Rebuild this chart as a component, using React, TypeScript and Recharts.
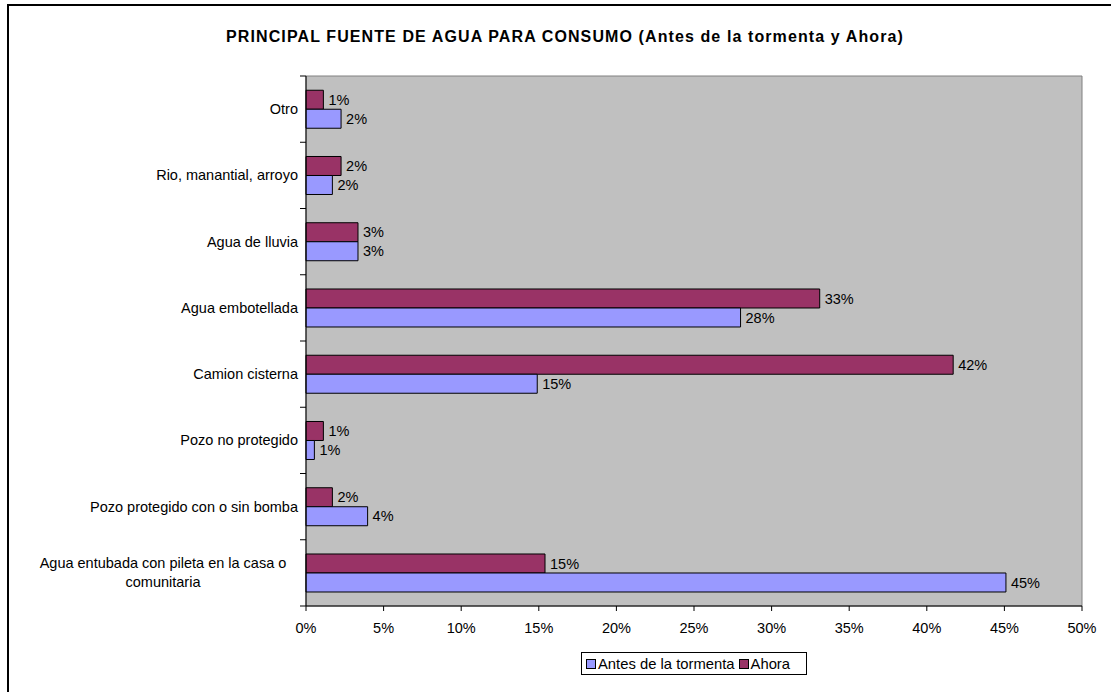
import React from "react";
import { BarChart, Bar, XAxis, YAxis, CartesianGrid, LabelList, ReferenceArea } from "recharts";

const categories = [
  "Otro",
  "Rio, manantial, arroyo",
  "Agua de lluvia",
  "Agua embotellada",
  "Camion cisterna",
  "Pozo no protegido",
  "Pozo protegido con o sin bomba",
  "Agua entubada con pileta en la casa o comunitaria",
];
const categoryLabelLines: string[][] = [
  ["Otro"],
  ["Rio, manantial, arroyo"],
  ["Agua de lluvia"],
  ["Agua embotellada"],
  ["Camion cisterna"],
  ["Pozo no protegido"],
  ["Pozo protegido con o sin bomba"],
  ["Agua entubada con pileta en la casa o", "comunitaria"],
];
const antes = [2.26, 1.7, 3.35, 28.0, 14.9, 0.54, 3.97, 45.1];
const ahora = [1.12, 2.26, 3.35, 33.1, 41.7, 1.12, 1.7, 15.4];
const xTicks = [0, 5, 10, 15, 20, 25, 30, 35, 40, 45, 50];

const data = categories.map((c, i) => ({ name: c, antes: antes[i], ahora: ahora[i] }));

const FONT = '"Liberation Sans", Arial, sans-serif';
const FS = 14.5;
const W = 1111;
const H = 692;
const M = { top: 76, right: 29, bottom: 56, left: 0 };
const XH = 30;
const band = (H - M.top - M.bottom - XH) / categories.length;

function YTick(props: any) {
  const { x, y, payload, index } = props;
  const lines = categoryLabelLines[index] || [payload.value];
  const axisX = x + 8;
  return (
    <g>
      <line x1={axisX - 6} x2={axisX} y1={y - band / 2} y2={y - band / 2} stroke="#000" />
      {index === categories.length - 1 && (
        <line x1={axisX - 6} x2={axisX} y1={y + band / 2} y2={y + band / 2} stroke="#000" />
      )}
      {lines.length === 1 ? (
        <text x={x} y={y} dy="0.35em" textAnchor="end" fontSize={FS} fontFamily={FONT} fill="#000">
          {lines[0]}
        </text>
      ) : (
        lines.map((l, k) => (
          <text
            key={k}
            x={x - 135}
            y={y + (k - (lines.length - 1) / 2) * 19}
            dy="0.35em"
            textAnchor="middle"
            fontSize={FS}
            fontFamily={FONT}
            fill="#000"
          >
            {l}
          </text>
        ))
      )}
    </g>
  );
}

const fmt = (v: any) => `${Math.round(Number(v))}%`;

export default function App() {
  return (
    <div style={{ position: "relative", width: W, height: H, overflow: "hidden", background: "#fff", fontFamily: FONT }}>
      <style>{"body{margin:0}"}</style>
      <div
        style={{
          position: "absolute",
          left: 7,
          top: 4,
          width: 1300,
          height: 900,
          border: "2px solid #000",
          boxSizing: "border-box",
        }}
      />
      <div
        style={{
          position: "absolute",
          left: 0,
          width: 1130,
          top: 28,
          textAlign: "center",
          fontWeight: "bold",
          fontSize: 16,
          letterSpacing: "1.1px",
          color: "#000",
          lineHeight: "18px",
        }}
      >
        PRINCIPAL FUENTE DE AGUA PARA CONSUMO (Antes de la tormenta y Ahora)
      </div>
      <div style={{ position: "absolute", left: 0, top: 0 }}>
        <BarChart
          width={W}
          height={H}
          data={data}
          layout="vertical"
          margin={M}
          barCategoryGap="21.5%"
          barGap={0}
        >
          <CartesianGrid horizontal={false} vertical={false} fill="#C0C0C0" />
          <ReferenceArea x1={0} x2={50} fill="none" stroke="#808080" strokeWidth={1} />
          <XAxis
            type="number"
            domain={[0, 50]}
            ticks={xTicks}
            tickFormatter={(v) => `${v}%`}
            height={XH}
            tickSize={5}
            tickMargin={12}
            interval={0}
            axisLine={{ stroke: "#000" }}
            tickLine={{ stroke: "#000" }}
            tick={{ fontSize: FS, fill: "#000", fontFamily: FONT }}
          />
          <YAxis
            type="category"
            dataKey="name"
            width={306}
            tickSize={6}
            tickMargin={2}
            tickLine={false}
            axisLine={{ stroke: "#000" }}
            interval={0}
            tick={<YTick />}
          />
          <Bar dataKey="ahora" name="Ahora" fill="#993366" stroke="#000" strokeWidth={1} isAnimationActive={false}>
            <LabelList dataKey="ahora" position="right" offset={5} formatter={fmt} fontSize={FS} fill="#000" fontFamily={FONT} />
          </Bar>
          <Bar dataKey="antes" name="Antes de la tormenta" fill="#9999FF" stroke="#000" strokeWidth={1} isAnimationActive={false}>
            <LabelList dataKey="antes" position="right" offset={5} formatter={fmt} fontSize={FS} fill="#000" fontFamily={FONT} />
          </Bar>
        </BarChart>
      </div>
      <div
        style={{
          position: "absolute",
          left: 581,
          top: 652,
          width: 226,
          height: 23,
          border: "1px solid #000",
          boxSizing: "border-box",
          display: "flex",
          alignItems: "center",
          fontSize: 14.8,
          color: "#000",
          background: "#fff",
          whiteSpace: "nowrap",
        }}
      >
        <span style={{ display: "inline-block", width: 8, height: 8, background: "#9999FF", border: "1px solid #000", marginLeft: 4, marginRight: 2 }} />
        <span>Antes de la tormenta</span>
        <span style={{ display: "inline-block", width: 8, height: 8, background: "#993366", border: "1px solid #000", marginLeft: 4, marginRight: 2 }} />
        <span>Ahora</span>
      </div>
    </div>
  );
}
